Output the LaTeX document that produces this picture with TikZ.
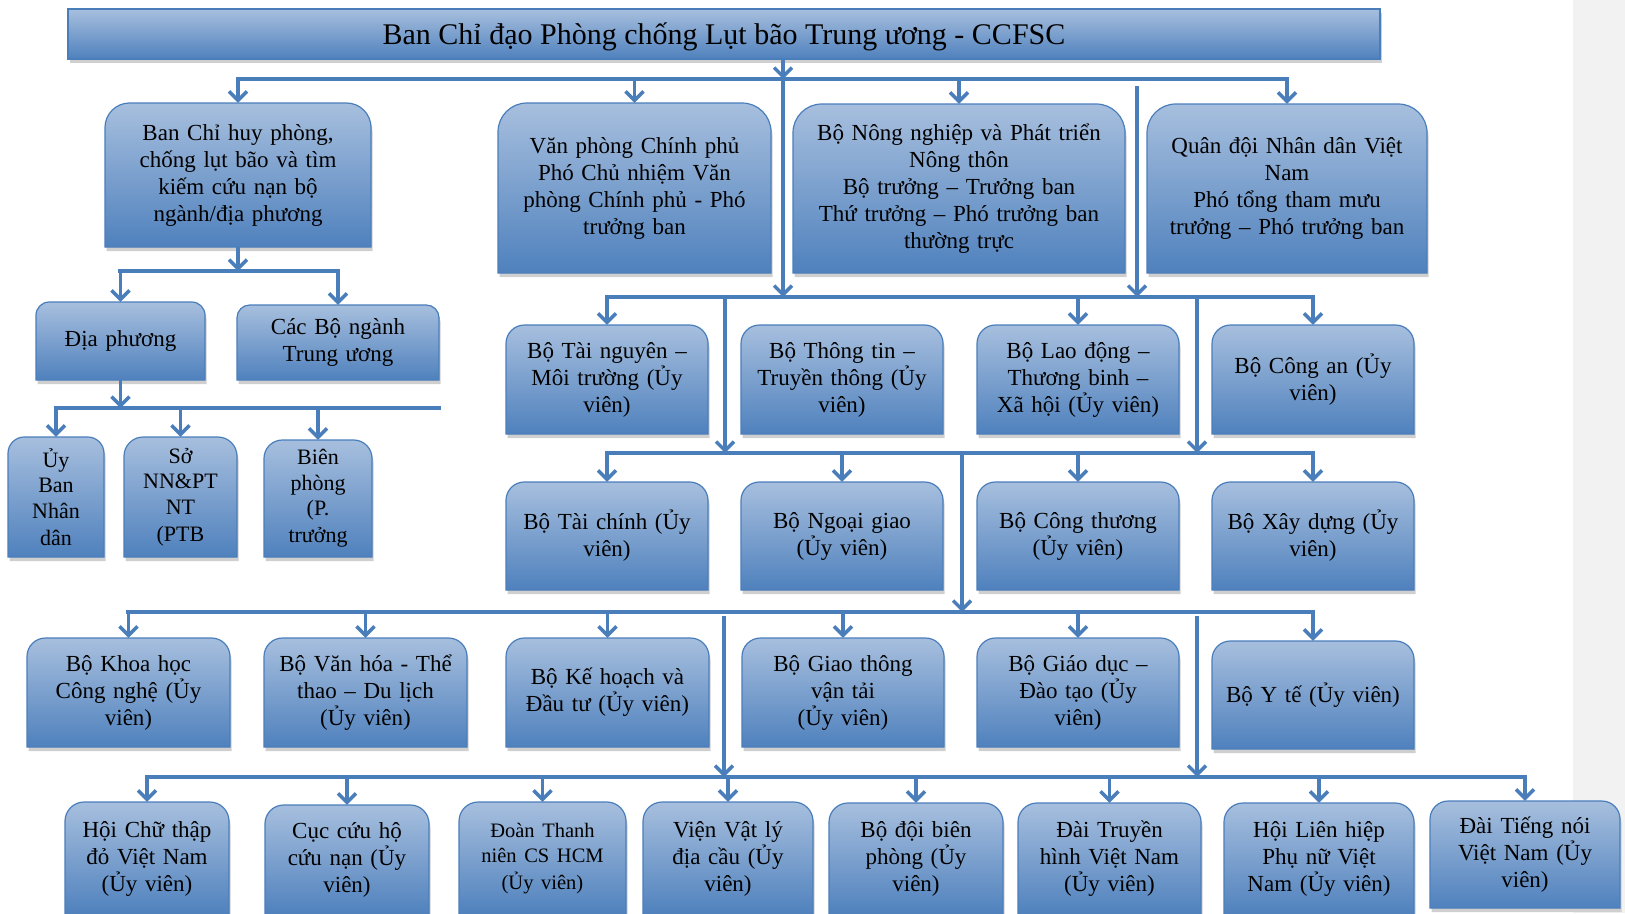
\documentclass[tikz,border=0pt]{standalone}
\usepackage{fontspec}
\setmainfont{Liberation Serif}
\usepackage{tikz}
\usetikzlibrary{arrows.meta,shadows}
\definecolor{boxtop}{HTML}{A7BFDE}
\definecolor{boxbot}{HTML}{4F81BD}
\definecolor{edge}{HTML}{4A7EBB}
\definecolor{link}{HTML}{4A7EBB}
\definecolor{shade}{HTML}{CFCFCF}
\definecolor{strip}{HTML}{F2F2F2}
\tikzset{
  panelfill/.style={top color=boxtop, bottom color=boxbot, draw=edge, line width=1.2pt},
  panelshadow/.style={fill=shade},
  lbl/.style={inner sep=0pt, align=center, text=black, font=\fontsize{23}{27}\selectfont},
  headbar/.style={rectangle, top color=boxtop, bottom color=boxbot, draw=edge, line width=1.2pt,
    inner sep=0pt, font=\fontsize{30}{34}\selectfont,
    drop shadow={shadow xshift=1.5pt, shadow yshift=-4pt, fill=shade, opacity=1}},
  busline/.style={draw=link, line width=4.5pt, line cap=rect},
  arr/.style={draw=link, line width=3.5pt, -{Straight Barb[length=9pt,width=18pt]}},
}
% box with rounded top corners: name, left, top, right, bottom, text
\newcommand{\panel}[6]{%
  \pgfmathsetmacro\pnR{0.17*min(#4-#2,#5-#3)}%
  \pgfmathsetmacro\pnW{#4-#2}%
  \pgfmathsetmacro\pnH{#5-#3}%
  \pgfmathsetmacro\pnT{#4-#2-6}%
  \pgfmathsetmacro\pnX{(#2+#4)/2}%
  \pgfmathsetmacro\pnY{(#3+#5)/2}%
  \begin{scope}[shift={(1.5,4)}]
    \fill[panelshadow] (#2,#5) -- (#2,{#3+\pnR}) arc[start angle=180,end angle=270,radius=\pnR]
      -- ({#4-\pnR},#3) arc[start angle=270,end angle=360,radius=\pnR] -- (#4,#5) -- cycle;
  \end{scope}
  \path[panelfill] (#2,#5) -- (#2,{#3+\pnR}) arc[start angle=180,end angle=270,radius=\pnR]
    -- ({#4-\pnR},#3) arc[start angle=270,end angle=360,radius=\pnR] -- (#4,#5) -- cycle;
  \node[lbl, minimum width=\pnW pt, minimum height=\pnH pt, text width=\pnT pt] (#1) at (\pnX,\pnY) {#6};%
}

\begin{document}
\begin{tikzpicture}[x=1pt,y=-1pt]
\useasboundingbox (0,0) rectangle (1625,913);
\fill[strip] (1573,0) rectangle (1625,913);

% title
\node[headbar, minimum width=1312pt, minimum height=50pt] (ccfsc) at (724,34)
  {\raisebox{-10pt}[0pt][0pt]{Ban Chỉ đạo Phòng chống Lụt bão Trung ương - CCFSC}};

% level 1
\panel{chihuy}{105}{103}{371}{247}{Ban Chỉ huy phòng,\\chống lụt bão và tìm\\kiếm cứu nạn bộ\\ngành/địa phương}
\panel{vanphong}{498}{103}{771}{273}{Văn phòng Chính phủ\\Phó Chủ nhiệm Văn\\phòng Chính phủ - Phó\\trưởng ban}
\panel{nongnghiep}{793}{104}{1125}{273}{Bộ Nông nghiệp và Phát triển\\Nông thôn\\Bộ trưởng – Trưởng ban\\Thứ trưởng – Phó trưởng ban\\thường trực}
\panel{quandoi}{1147}{104}{1427}{273}{Quân đội Nhân dân Việt\\Nam\\Phó tổng tham mưu\\trưởng – Phó trưởng ban}

% left branch
\panel{diaphuong}{36}{302}{205}{380}{Địa phương}
\panel{cacbo}{237}{305}{439}{380}{Các Bộ ngành\\Trung ương}
\panel{uyban}{8}{437}{104}{557}{\fontsize{22}{25.5}\selectfont Ủy\\Ban\\Nhân\\dân}
\panel{so}{124}{437}{237}{557}{\fontsize{22}{25.5}\selectfont Sở\\NN\&PT\\NT\\(PTB}
\panel{bienphong}{264}{440}{372}{557}{\fontsize{22}{25.5}\selectfont Biên\\phòng\\(P.\\trưởng}

% members, row 2
\panel{tainguyen}{506}{325}{708}{434}{Bộ Tài nguyên –\\Môi trường (Ủy\\viên)}
\panel{thongtin}{741}{325}{943}{434}{Bộ Thông tin –\\Truyền thông (Ủy\\viên)}
\panel{laodong}{977}{325}{1179}{434}{Bộ Lao động –\\Thương binh –\\Xã hội (Ủy viên)}
\panel{congan}{1212}{325}{1414}{434}{Bộ Công an (Ủy\\viên)}

% members, row 3
\panel{taichinh}{506}{482}{708}{590}{Bộ Tài chính (Ủy\\viên)}
\panel{ngoaigiao}{741}{482}{943}{590}{Bộ Ngoại giao\\(Ủy viên)}
\panel{congthuong}{977}{482}{1179}{590}{Bộ Công thương\\(Ủy viên)}
\panel{xaydung}{1212}{482}{1414}{590}{Bộ Xây dựng (Ủy\\viên)}

% members, row 4
\panel{khoahoc}{27}{638}{230}{747}{Bộ Khoa học\\Công nghệ (Ủy\\viên)}
\panel{vanhoa}{264}{638}{467}{747}{Bộ Văn hóa - Thể\\thao – Du lịch\\(Ủy viên)}
\panel{kehoach}{506}{638}{709}{747}{Bộ Kế hoạch và\\Đầu tư (Ủy viên)}
\panel{giaothong}{742}{638}{944}{747}{Bộ Giao thông\\vận tải\\(Ủy viên)}
\panel{giaoduc}{977}{638}{1179}{747}{Bộ Giáo dục –\\Đào tạo (Ủy\\viên)}
\panel{yte}{1212}{641}{1414}{749}{Bộ Y tế (Ủy viên)}

% members, row 5
\panel{chuthap}{65}{802}{229}{915}{Hội Chữ thập\\đỏ Việt Nam\\(Ủy viên)}
\panel{cuccuuho}{265}{805}{429}{915}{Cục cứu hộ\\cứu nạn (Ủy\\viên)}
\panel{doanthanh}{459}{802}{626}{915}{\fontsize{20.5}{25}\selectfont Đoàn Thanh\\niên CS HCM\\(Ủy viên)}
\panel{vienvatly}{643}{802}{813}{915}{Viện Vật lý\\địa cầu (Ủy\\viên)}
\panel{bodoi}{829}{803}{1003}{915}{Bộ đội biên\\phòng (Ủy\\viên)}
\panel{truyenhinh}{1018}{803}{1201}{915}{Đài Truyền\\hình Việt Nam\\(Ủy viên)}
\panel{lienhiep}{1224}{803}{1414}{915}{Hội Liên hiệp\\Phụ nữ Việt\\Nam (Ủy viên)}
\panel{tiengnoi}{1430}{801}{1620}{908}{Đài Tiếng nói\\Việt Nam (Ủy\\viên)}

% bus levels and spines
\coordinate (bus1) at (0,79);
\coordinate (busL1) at (0,271);
\coordinate (busL2) at (0,408);
\coordinate (bus2) at (0,297);
\coordinate (bus3) at (0,453);
\coordinate (bus4) at (0,612);
\coordinate (bus5) at (0,777);
\coordinate (sp1) at (783,79);
\coordinate (sp2) at (1137,86);
\coordinate (sp3) at (725,297);
\coordinate (sp4) at (1197,297);
\coordinate (sp5) at (962,453);
\coordinate (sp6) at (724,616);
\coordinate (sp7) at (1197,616);

% from the title
\draw[arr] (ccfsc.south -| sp1) -- (sp1);
\draw[busline] (chihuy.north |- bus1) -- (quandoi.north |- bus1);
\foreach \n in {chihuy,vanphong,nongnghiep,quandoi}
  \draw[arr] (\n.north |- bus1) -- (\n.north);
\draw[arr] (sp1) -- (sp1 |- bus2);
\draw[arr] (sp2) -- (sp2 |- bus2);

% left branch
\draw[arr] (chihuy.south) -- (chihuy.south |- busL1);
\draw[busline] (diaphuong.north |- busL1) -- (cacbo.north |- busL1);
\foreach \n in {diaphuong,cacbo}
  \draw[arr] (\n.north |- busL1) -- (\n.north);
\draw[arr] (diaphuong.south) -- (diaphuong.south |- busL2);
\draw[busline] (uyban.north |- busL2) -- (cacbo.east |- busL2);
\foreach \n in {uyban,so,bienphong}
  \draw[arr] (\n.north |- busL2) -- (\n.north);

% members
\draw[busline] (tainguyen.north |- bus2) -- (congan.north |- bus2);
\foreach \n in {tainguyen,laodong,congan}
  \draw[arr] (\n.north |- bus2) -- (\n.north);
\draw[arr] (sp3) -- (sp3 |- bus3);
\draw[arr] (sp4) -- (sp4 |- bus3);

\draw[busline] (taichinh.north |- bus3) -- (xaydung.north |- bus3);
\foreach \n in {taichinh,ngoaigiao,congthuong,xaydung}
  \draw[arr] (\n.north |- bus3) -- (\n.north);
\draw[arr] (sp5) -- (sp5 |- bus4);

\draw[busline] (khoahoc.north |- bus4) -- (yte.north |- bus4);
\foreach \n in {khoahoc,vanhoa,kehoach,giaothong,giaoduc,yte}
  \draw[arr] (\n.north |- bus4) -- (\n.north);
\draw[arr] (sp6) -- (sp6 |- bus5);
\draw[arr] (sp7) -- (sp7 |- bus5);

\draw[busline] (chuthap.north |- bus5) -- (tiengnoi.north |- bus5);
\foreach \n in {chuthap,cuccuuho,doanthanh,vienvatly,bodoi,truyenhinh,lienhiep,tiengnoi}
  \draw[arr] (\n.north |- bus5) -- (\n.north);
\end{tikzpicture}
\end{document}
